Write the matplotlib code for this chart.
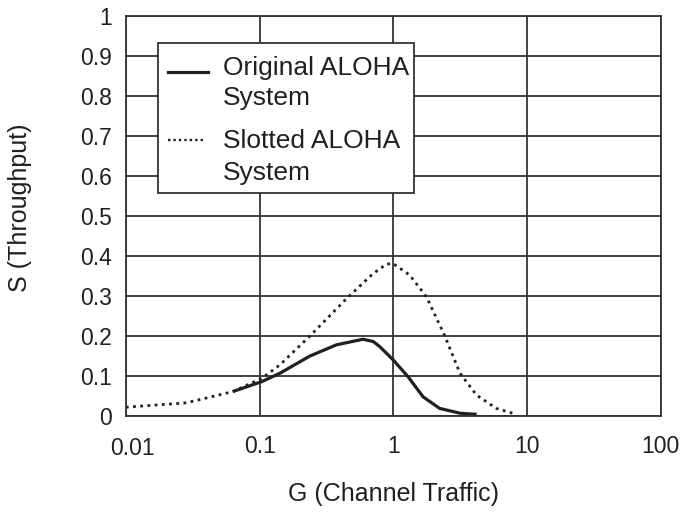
import numpy as np
import matplotlib
matplotlib.use("Agg")
import matplotlib.pyplot as plt
from matplotlib.patches import Rectangle
from matplotlib.lines import Line2D
from matplotlib.transforms import ScaledTranslation

plt.rcParams['font.family'] = ['Liberation Sans', 'DejaVu Sans']

# values
G_slotted = [0.01, 0.0284, 0.063, 0.104, 0.142, 0.238, 0.448, 0.70, 0.89, 1.0,
             1.33, 1.77, 2.43, 3.15, 4.2, 5.9, 8.35]
S_slotted = [0.022, 0.033, 0.061, 0.094, 0.128, 0.20, 0.294, 0.355, 0.38, 0.381,
             0.352, 0.298, 0.20, 0.107, 0.052, 0.019, 0.004]

G_pure = [0.063, 0.104, 0.142, 0.238, 0.376, 0.594, 0.71, 0.795, 1.0, 1.29,
          1.67, 2.22, 3.15, 4.2]
S_pure = [0.061, 0.086, 0.107, 0.15, 0.178, 0.192, 0.186, 0.173, 0.14, 0.098,
          0.048, 0.019, 0.007, 0.004]

xticks = [0.01, 0.1, 1, 10, 100]
xticklabels = ['0.01', '0.1', '1', '10', '100']
yticks = [0, 0.1, 0.2, 0.3, 0.4, 0.5, 0.6, 0.7, 0.8, 0.9, 1]
yticklabels = ['0', '0.1', '0.2', '0.3', '0.4', '0.5', '0.6', '0.7', '0.8', '0.9', '1']

ink = '#231f20'

fig = plt.figure(figsize=(6.84, 5.12), dpi=100)
ax = fig.add_axes([0.184, 0.1875, 0.782, 0.781])

ax.plot(G_slotted, S_slotted, color=ink, lw=2.0, linestyle=(0, (1, 1.6)))
ax.plot(G_pure, S_pure, color=ink, lw=2.3, solid_capstyle='butt')

ax.set_xscale('log')
ax.set_xlim(0.01, 100)
ax.set_ylim(0, 1)
ax.set_xticks(xticks)
ax.set_xticklabels(xticklabels)
ax.minorticks_off()
ax.set_yticks(yticks)
ax.set_yticklabels(yticklabels)
ax.tick_params(length=0, labelsize=16.5, colors=ink)
ax.tick_params(axis='x', pad=14)
ax.tick_params(axis='y', pad=10)
ax.grid(True, color='#333333', lw=1.3)
for s in ax.spines.values():
    s.set_color('#333333')
    s.set_linewidth(1.3)
# the first x label sits a little lower and to the right in the original
first = ax.get_xticklabels()[0]
first.set_y(-0.005)
first.set_transform(first.get_transform() + ScaledTranslation(7 / 100, 0, fig.dpi_scale_trans))

ax.set_xlabel('G (Channel Traffic)', fontsize=18, color=ink)
ax.set_ylabel('S (Throughput)', fontsize=18, color=ink)
ax.xaxis.set_label_coords(0.5, -0.165)
ax.yaxis.set_label_coords(-0.175, 0.52)

# legend drawn by hand so the handle sits on the first text line
ax.add_patch(Rectangle((0.06, 0.5575), 0.478, 0.3755, transform=ax.transAxes,
                       facecolor='white', edgecolor='#333333', lw=1.3, zorder=5))
ax.add_line(Line2D([0.079, 0.153], [0.86, 0.86], transform=ax.transAxes,
                   color=ink, lw=2.3, zorder=6))
ax.add_line(Line2D([0.079, 0.150], [0.689, 0.689], transform=ax.transAxes,
                   color=ink, lw=1.7, linestyle=(0, (1, 1.3)), zorder=6))
legend_lines = [('Original ALOHA', 0.8525), ('System', 0.7775),
                ('Slotted ALOHA', 0.669), ('System', 0.59)]
for txt, yb in legend_lines:
    ax.text(0.181, yb, txt, transform=ax.transAxes, fontsize=19, color=ink,
            va='baseline', ha='left', zorder=7)

fig.savefig('out.png', dpi=100)
